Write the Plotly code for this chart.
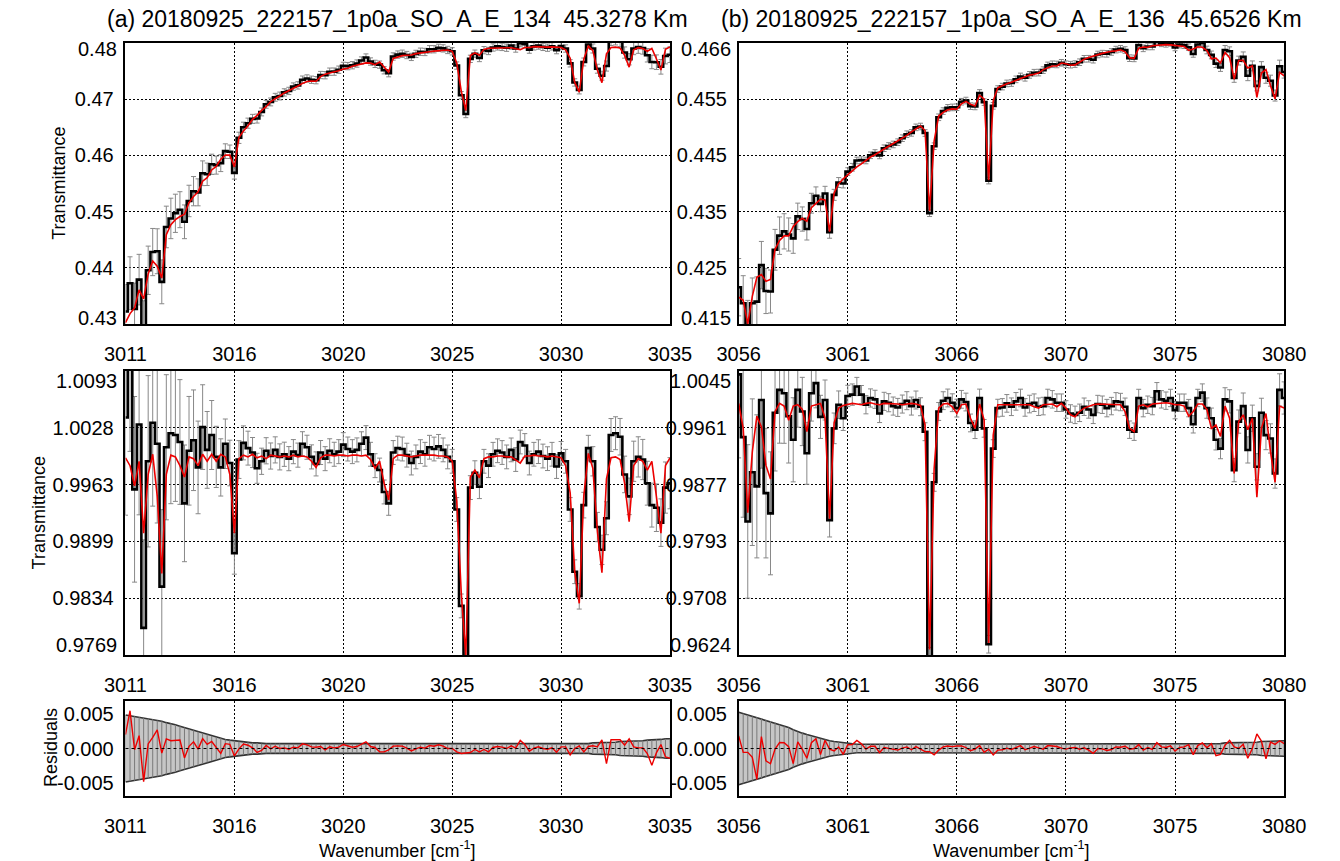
import numpy as np
import plotly.graph_objects as go
from plotly.subplots import make_subplots

# ---------------- panel (a) : 3011-3035 cm-1 ----------------
wn_a = np.round(np.linspace(3011.0, 3035.0, 121), 2)
cont_a = [
    0.4305, 0.4325, 0.4345, 0.4365, 0.4385, 0.4400, 0.4413, 0.4425, 0.4443, 0.4470,
    0.4478, 0.4488, 0.4498, 0.4508, 0.4518, 0.4530, 0.4542, 0.4555, 0.4565, 0.4575,
    0.4585, 0.4594, 0.4603, 0.4612, 0.4622, 0.4635, 0.4645, 0.4655, 0.4665, 0.4674,
    0.4682, 0.4690, 0.4697, 0.4702, 0.4708, 0.4713, 0.4718, 0.4722, 0.4726, 0.4730,
    0.4734, 0.4737, 0.4740, 0.4743, 0.4746, 0.4748, 0.4750, 0.4752, 0.4755, 0.4757,
    0.4760, 0.4762, 0.4764, 0.4766, 0.4768, 0.4770, 0.4771, 0.4773, 0.4774, 0.4776,
    0.4777, 0.4779, 0.4780, 0.4781, 0.4783, 0.4784, 0.4785, 0.4786, 0.4787, 0.4788,
    0.4789, 0.4790, 0.4790, 0.4791, 0.4791, 0.4791, 0.4791, 0.4792, 0.4792, 0.4792,
    0.4793, 0.4793, 0.4793, 0.4793, 0.4794, 0.4794, 0.4794, 0.4794, 0.4794, 0.4794,
    0.4795, 0.4795, 0.4795, 0.4795, 0.4795, 0.4795, 0.4795, 0.4795, 0.4795, 0.4795,
    0.4795, 0.4795, 0.4795, 0.4795, 0.4795, 0.4795, 0.4795, 0.4795, 0.4795, 0.4795,
    0.4795, 0.4795, 0.4795, 0.4795, 0.4795, 0.4795, 0.4795, 0.4796, 0.4796, 0.4796,
    0.4796]
fit_a = [
    0.9994, 0.9985, 0.9962, 0.9990, 0.9908, 0.9975, 0.9998, 0.9950, 0.9862, 0.9975,
    0.9997, 0.9995, 0.9985, 0.9972, 0.9995, 0.9993, 0.9985, 0.9998, 0.9990, 0.9998,
    0.9990, 0.9998, 0.9995, 0.9975, 0.9908, 0.9993, 0.9997, 0.9995, 0.9998, 0.9994,
    0.9996, 0.9993, 0.9997, 0.9996, 0.9995, 0.9996, 0.9995, 0.9997, 0.9995, 0.9996,
    0.9995, 0.9990, 0.9983, 0.9994, 0.9997, 0.9997, 0.9996, 0.9997, 0.9997, 0.9996,
    0.9997, 0.9997, 0.9996, 0.9997, 0.9992, 0.9982, 0.9990, 0.9965, 0.9946, 0.9993,
    0.9997, 0.9997, 0.9996, 0.9995, 0.9996, 0.9997, 0.9997, 0.9997, 0.9997, 0.9996,
    0.9996, 0.9995, 0.9990, 0.9945, 0.9840, 0.9768, 0.9972, 0.9980, 0.9971, 0.9993,
    0.9995, 0.9995, 0.9996, 0.9996, 0.9995, 0.9995, 0.9991, 0.9988, 0.9996, 0.9996,
    0.9997, 0.9996, 0.9996, 0.9995, 0.9996, 0.9995, 0.9994, 0.9985, 0.9954, 0.9864,
    0.9828, 0.9950, 0.9999, 0.9982, 0.9910, 0.9863, 0.9970, 0.9994, 0.9995, 0.9992,
    0.9965, 0.9921, 0.9985, 0.9993, 0.9990, 0.9980, 0.9990, 0.9950, 0.9908, 0.9985,
    0.9994]
obs_a = [
    1.0040, 1.0110, 0.9958, 1.0032, 0.9800, 0.9990, 1.0034, 1.0010, 0.9847, 1.0006,
    1.0022, 1.0020, 1.0012, 0.9942, 1.0002, 1.0014, 0.9983, 1.0029, 1.0003, 1.0020,
    0.9995, 0.9983, 1.0010, 0.9988, 0.9885, 0.9992, 1.0011, 1.0005, 1.0000, 0.9982,
    0.9990, 1.0002, 0.9996, 1.0003, 0.9995, 0.9998, 0.9993, 1.0001, 0.9997, 1.0010,
    1.0006, 0.9995, 0.9987, 1.0000, 0.9993, 1.0002, 0.9998, 1.0001, 1.0009, 1.0004,
    1.0001, 1.0003, 1.0010, 1.0017, 0.9998, 0.9985, 0.9980, 0.9955, 0.9942, 1.0000,
    1.0005, 1.0004, 0.9997, 0.9988, 0.9995, 1.0001, 0.9998, 1.0006, 1.0004, 1.0007,
    1.0003, 0.9995, 0.9990, 0.9935, 0.9825, 0.9755, 0.9960, 0.9977, 0.9961, 0.9990,
    0.9985, 0.9998, 1.0002, 1.0000, 0.9995, 1.0003, 0.9992, 1.0012, 1.0008, 0.9988,
    0.9998, 1.0001, 0.9996, 0.9993, 0.9998, 0.9984, 0.9999, 0.9990, 0.9935, 0.9864,
    0.9836, 0.9940, 1.0005, 0.9990, 0.9915, 0.9889, 0.9925, 1.0020, 1.0022, 1.0018,
    0.9975, 0.9950, 0.9990, 0.9995, 0.9992, 0.9965, 0.9940, 0.9937, 0.9920, 0.9960,
    0.9965]
band_a = [
    0.0048, 0.0047, 0.0046, 0.0045, 0.0044, 0.0043, 0.0042, 0.0040, 0.0039, 0.0037,
    0.0036, 0.0034, 0.0032, 0.0030, 0.0028, 0.0026, 0.0024, 0.0022, 0.0020, 0.0018,
    0.0016, 0.0015, 0.0013, 0.0012, 0.0011, 0.0010, 0.0009, 0.0009, 0.0008, 0.0008,
    0.0007, 0.0007, 0.0007, 0.0007, 0.0007, 0.00065, 0.00065, 0.00065, 0.00065, 0.00065,
    0.00065, 0.00065, 0.00065, 0.00065, 0.00065, 0.00065, 0.00065, 0.00065, 0.00065, 0.00065,
    0.00065, 0.00065, 0.00065, 0.00065, 0.00065, 0.00065, 0.00065, 0.00065, 0.00065, 0.00065,
    0.00065, 0.00065, 0.00065, 0.00065, 0.00065, 0.00065, 0.00065, 0.00065, 0.00065, 0.00065,
    0.00065, 0.00065, 0.00065, 0.00065, 0.00065, 0.00065, 0.00065, 0.00065, 0.00065, 0.00065,
    0.00065, 0.00065, 0.00065, 0.00065, 0.00065, 0.00065, 0.00065, 0.00065, 0.00065, 0.00065,
    0.00065, 0.00065, 0.00065, 0.00065, 0.00065, 0.00065, 0.00065, 0.00065, 0.00065, 0.00065,
    0.0007, 0.0007, 0.0007, 0.0008, 0.0008, 0.0008, 0.0009, 0.0009, 0.0009, 0.0010,
    0.0010, 0.0010, 0.0011, 0.0011, 0.0011, 0.0012, 0.0012, 0.0013, 0.0013, 0.0014,
    0.0014]

# ---------------- panel (b) : 3056-3080 cm-1 ----------------
wn_b = np.round(np.linspace(3056.0, 3080.0, 121), 2)
cont_b = [
    0.4200, 0.4210, 0.4220, 0.4232, 0.4244, 0.4256, 0.4268, 0.4280, 0.4292, 0.4303,
    0.4313, 0.4322, 0.4330, 0.4338, 0.4347, 0.4356, 0.4364, 0.4371, 0.4378, 0.4386,
    0.4394, 0.4402, 0.4409, 0.4416, 0.4423, 0.4430, 0.4437, 0.4443, 0.4449, 0.4454,
    0.4459, 0.4464, 0.4469, 0.4474, 0.4479, 0.4484, 0.4489, 0.4494, 0.4500, 0.4506,
    0.4512, 0.4517, 0.4522, 0.4527, 0.4532, 0.4536, 0.4540, 0.4544, 0.4548, 0.4552,
    0.4556, 0.4560, 0.4564, 0.4567, 0.4571, 0.4575, 0.4578, 0.4581, 0.4585, 0.4588,
    0.4591, 0.4594, 0.4597, 0.4601, 0.4604, 0.4607, 0.4610, 0.4614, 0.4617, 0.4620,
    0.4622, 0.4625, 0.4627, 0.4629, 0.4631, 0.4633, 0.4635, 0.4637, 0.4639, 0.4641,
    0.4643, 0.4645, 0.4647, 0.4648, 0.4650, 0.4651, 0.4652, 0.4653, 0.4654, 0.4655,
    0.4656, 0.4657, 0.4657, 0.4658, 0.4658, 0.4658, 0.4658, 0.4658, 0.4657, 0.4657,
    0.4656, 0.4655, 0.4654, 0.4652, 0.4650, 0.4649, 0.4648, 0.4646, 0.4645, 0.4644,
    0.4642, 0.4638, 0.4634, 0.4630, 0.4627, 0.4624, 0.4620, 0.4617, 0.4614, 0.4610,
    0.4605]
fit_b = [
    0.9997, 0.9960, 0.9835, 0.9925, 0.9978, 0.9962, 0.9905, 0.9885, 0.9985, 0.9997,
    0.9993, 0.9972, 0.9993, 0.9995, 0.9988, 0.9955, 0.9993, 0.9995, 0.9997, 0.9975,
    0.9826, 0.9968, 0.9990, 0.9994, 0.9996, 0.9997, 0.9996, 0.9995, 0.9997, 0.9998,
    0.9996, 0.9995, 0.9997, 0.9997, 0.9996, 0.9996, 0.9995, 0.9996, 0.9997, 0.9996,
    0.9994, 0.9965, 0.9632, 0.9900, 0.9990, 0.9996, 0.9997, 0.9992, 0.9982, 0.9995,
    0.9996, 0.9975, 0.9960, 0.9996, 0.9972, 0.9642, 0.9950, 0.9995, 0.9995, 0.9996,
    0.9995, 0.9996, 0.9996, 0.9995, 0.9995, 0.9992, 0.9990, 0.9995, 0.9996, 0.9996,
    0.9992, 0.9997, 0.9990, 0.9980, 0.9977, 0.9985, 0.9990, 0.9993, 0.9995, 0.9996,
    0.9996, 0.9996, 0.9996, 0.9995, 0.9995, 0.9985, 0.9960, 0.9955, 0.9993, 0.9995,
    0.9992, 0.9996, 0.9997, 0.9998, 0.9998, 0.9997, 0.9995, 0.9995, 0.9993, 0.9978,
    0.9985, 0.9996, 0.9996, 0.9988, 0.9960, 0.9965, 0.9948, 0.9993, 0.9975, 0.9893,
    0.9970, 0.9980, 0.9958, 0.9975, 0.9858, 0.9960, 0.9982, 0.9925, 0.9880, 0.9993,
    0.9990]
obs_b = [
    1.0040, 0.9947, 0.9822, 0.9895, 0.9874, 1.0002, 0.9864, 0.9834, 0.9983, 1.0017,
    1.0012, 0.9978, 0.9943, 1.0017, 0.9985, 0.9923, 1.0012, 1.0027, 0.9977, 1.0002,
    0.9824, 0.9960, 0.9995, 0.9975, 1.0008, 1.0010, 1.0022, 1.0010, 0.9995, 1.0005,
    1.0003, 0.9982, 1.0000, 0.9998, 0.9993, 0.9991, 0.9996, 1.0001, 0.9993, 1.0002,
    0.9992, 0.9955, 0.9622, 0.9880, 0.9985, 1.0001, 1.0005, 0.9998, 0.9990, 1.0003,
    0.9999, 0.9968, 0.9958, 1.0005, 0.9960, 0.9640, 0.9930, 0.9990, 0.9991, 0.9997,
    0.9992, 1.0000, 1.0005, 0.9991, 0.9996, 0.9998, 0.9992, 0.9993, 1.0005, 1.0003,
    0.9998, 0.9998, 0.9988, 0.9982, 0.9980, 0.9983, 0.9992, 0.9988, 0.9980, 0.9996,
    0.9995, 0.9990, 0.9993, 1.0000, 0.9999, 0.9992, 0.9958, 0.9955, 1.0005, 0.9990,
    0.9995, 0.9993, 1.0015, 1.0003, 1.0001, 1.0005, 0.9987, 0.9998, 0.9998, 0.9990,
    0.9966, 1.0005, 1.0013, 0.9990, 0.9975, 0.9943, 0.9930, 1.0003, 1.0000, 0.9898,
    0.9970, 0.9993, 0.9928, 0.9975, 0.9903, 0.9983, 0.9950, 0.9945, 0.9893, 1.0017,
    1.0005]
band_b = [
    0.0052, 0.0050, 0.0048, 0.0046, 0.0045, 0.0043, 0.0041, 0.0039, 0.0037, 0.0034,
    0.0032, 0.0030, 0.0027, 0.0024, 0.0022, 0.0020, 0.0018, 0.0016, 0.0014, 0.0013,
    0.0011, 0.0010, 0.0009, 0.0008, 0.0007, 0.0007, 0.0006, 0.0006, 0.0006, 0.0006,
    0.0006, 0.0006, 0.0006, 0.0006, 0.0006, 0.0006, 0.0006, 0.0006, 0.0006, 0.0006,
    0.0006, 0.0006, 0.0006, 0.0006, 0.0006, 0.0006, 0.0006, 0.0006, 0.0006, 0.0006,
    0.0006, 0.0006, 0.0006, 0.0006, 0.0006, 0.0006, 0.0006, 0.0006, 0.0006, 0.0006,
    0.0006, 0.0006, 0.0006, 0.0006, 0.0006, 0.0006, 0.0006, 0.0006, 0.0006, 0.0006,
    0.0006, 0.0006, 0.0006, 0.0006, 0.0006, 0.0006, 0.0006, 0.0006, 0.0006, 0.0006,
    0.0006, 0.0006, 0.0006, 0.0006, 0.0006, 0.0006, 0.0006, 0.0006, 0.0006, 0.0006,
    0.0006, 0.0006, 0.0006, 0.0006, 0.0006, 0.0006, 0.0006, 0.0006, 0.0006, 0.0006,
    0.0006, 0.0006, 0.0006, 0.0007, 0.0007, 0.0007, 0.0007, 0.0008, 0.0008, 0.0008,
    0.0008, 0.0009, 0.0009, 0.0009, 0.0009, 0.0010, 0.0010, 0.0010, 0.0010, 0.0011,
    0.0011]

# ---------------- ticks / labels ----------------
xtick_a = ['3011', '3016', '3020', '3025', '3030', '3035']
xtick_b = ['3056', '3061', '3066', '3070', '3075', '3080']
ytick_top_a = ['0.43', '0.44', '0.45', '0.46', '0.47', '0.48']
ytick_top_b = ['0.415', '0.425', '0.435', '0.445', '0.455', '0.466']
ytick_mid_a = ['0.9769', '0.9834', '0.9899', '0.9963', '1.0028', '1.0093']
ytick_mid_b = ['0.9624', '0.9708', '0.9793', '0.9877', '0.9961', '1.0045']
ytick_res = ['-0.005', '0.000', '0.005']
res_ticks = [-0.005, 0.0, 0.005]
title_a = '(a) 20180925_222157_1p0a_SO_A_E_134  45.3278 Km'
title_b = '(b) 20180925_222157_1p0a_SO_A_E_136  45.6526 Km'

FONT = 'Liberation Sans, Arial, sans-serif'
RED = '#ec0000'
W, H = 1340, 861
TICK_SIZE = 20

fig = make_subplots(rows=3, cols=2)

panels = [
    dict(col=1, wn=wn_a, cont=cont_a, fit=fit_a, obs=obs_a, band=band_a,
         xr=[3011, 3035], xt=xtick_a, ytop=[0.43, 0.48], yt_top=ytick_top_a,
         ymid=[0.9769, 1.0093], yt_mid=ytick_mid_a),
    dict(col=2, wn=wn_b, cont=cont_b, fit=fit_b, obs=obs_b, band=band_b,
         xr=[3056, 3080], xt=xtick_b, ytop=[0.415, 0.466], yt_top=ytick_top_b,
         ymid=[0.9624, 1.0045], yt_mid=ytick_mid_b),
]

xdom = [[107 / W, 670 / W], [741 / W, 1305 / W]]
ydom = [[1 - 324 / H, 1 - 43 / H], [1 - 655 / H, 1 - 371 / H], [1 - 796 / H, 1 - 701 / H]]
ann = []

for p in panels:
    c = p['col']
    wn = p['wn']
    cont = np.array(p['cont'])
    fit = np.array(p['fit'])
    obs = np.array(p['obs'])
    band = np.array(p['band'])
    top_obs = obs * cont
    top_fit = fit * cont
    mid_err = band / cont
    res = (obs - fit) * cont

    # --- top: raw transmittance ---
    fig.add_trace(go.Scatter(x=wn, y=top_obs, mode='markers',
                             marker=dict(size=2, color='rgba(0,0,0,0)'),
                             error_y=dict(type='data', array=band, color='#888888',
                                          thickness=1, width=2.5),
                             showlegend=False, hoverinfo='skip'), row=1, col=c)
    fig.add_trace(go.Scatter(x=wn, y=top_obs, mode='lines',
                             line=dict(color='black', width=2.6, shape='hvh'),
                             showlegend=False), row=1, col=c)
    fig.add_trace(go.Scatter(x=wn, y=top_fit, mode='lines',
                             line=dict(color=RED, width=1.6),
                             showlegend=False), row=1, col=c)

    # --- middle: normalised transmittance ---
    fig.add_trace(go.Scatter(x=wn, y=obs, mode='markers',
                             marker=dict(size=2, color='rgba(0,0,0,0)'),
                             error_y=dict(type='data', array=mid_err, color='#888888',
                                          thickness=1, width=2.5),
                             showlegend=False, hoverinfo='skip'), row=2, col=c)
    fig.add_trace(go.Scatter(x=wn, y=obs, mode='lines',
                             line=dict(color='black', width=2.6, shape='hvh'),
                             showlegend=False), row=2, col=c)
    fig.add_trace(go.Scatter(x=wn, y=fit, mode='lines',
                             line=dict(color=RED, width=1.6),
                             showlegend=False), row=2, col=c)

    # --- bottom: residuals ---
    fig.add_trace(go.Scatter(x=wn, y=band, mode='lines',
                             line=dict(color='#333333', width=1.6),
                             showlegend=False, hoverinfo='skip'), row=3, col=c)
    fig.add_trace(go.Scatter(x=wn, y=-band, mode='lines',
                             line=dict(color='#333333', width=1.6),
                             fill='tonexty', fillcolor='#c6c6c6',
                             showlegend=False, hoverinfo='skip'), row=3, col=c)
    fig.add_trace(go.Scatter(x=wn, y=np.zeros_like(band), mode='markers',
                             marker=dict(size=2, color='rgba(0,0,0,0)'),
                             error_y=dict(type='data', array=band, color='#7a7a7a',
                                          thickness=1, width=0),
                             showlegend=False, hoverinfo='skip'), row=3, col=c)
    fig.add_hline(y=0, line=dict(color='black', width=1, dash='dot'), row=3, col=c)
    fig.add_trace(go.Scatter(x=wn, y=res, mode='lines',
                             line=dict(color=RED, width=1.4),
                             showlegend=False), row=3, col=c)

    xtv = list(np.linspace(p['xr'][0], p['xr'][1], 6))
    for r in (1, 2, 3):
        fig.update_xaxes(range=p['xr'], tickvals=xtv, ticktext=p['xt'], row=r, col=c)

    # y axes of the two transmittance panels: inner ticks on the axis, end labels nudged inward
    for r, rng, txt, nudge in ((1, p['ytop'], p['yt_top'], 6), (2, p['ymid'], p['yt_mid'], 10)):
        ytv = list(np.linspace(rng[0], rng[1], 6))
        fig.update_yaxes(range=rng, tickvals=ytv[1:-1], ticktext=txt[1:-1], row=r, col=c)
        yname = 'y' + ('' if (r == 1 and c == 1) else str((r - 1) * 2 + c))
        for val, lab, shift in ((ytv[0], txt[0], nudge), (ytv[-1], txt[-1], -nudge)):
            ann.append(dict(text=lab, x=xdom[c - 1][0], y=val, xref='paper', yref=yname,
                            xanchor='right', yanchor='middle', xshift=-6, yshift=shift,
                            showarrow=False,
                            font=dict(family=FONT, size=TICK_SIZE, color='black')))
    fig.update_yaxes(range=[-0.0068, 0.0068], tickvals=res_ticks, ticktext=ytick_res,
                     showgrid=False, row=3, col=c)

common = dict(showline=True, mirror=True, linecolor='black', linewidth=1.5,
              ticks='', zeroline=False, gridcolor='black', gridwidth=1,
              griddash='2px,2px', tickfont=dict(family=FONT, size=TICK_SIZE, color='black'))
fig.update_xaxes(showgrid=True, ticklabelstandoff=11, **common)
fig.update_yaxes(ticklabelstandoff=6, **common)
fig.update_yaxes(showgrid=True, row=1)
fig.update_yaxes(showgrid=True, row=2)
fig.update_yaxes(showgrid=False, row=3)

lay = {}
n = 0
for r in range(3):
    for c in range(2):
        n += 1
        sfx = '' if n == 1 else str(n)
        lay['xaxis' + sfx] = dict(domain=xdom[c])
        lay['yaxis' + sfx] = dict(domain=ydom[r])
fig.update_layout(**lay)

for t, c in ((title_a, 0), (title_b, 1)):
    ann.append(dict(text=t, x=(xdom[c][0] + xdom[c][1]) / 2, y=1 - 19 / H,
                    xref='paper', yref='paper', showarrow=False,
                    xanchor='center', yanchor='middle',
                    font=dict(family=FONT, size=23, color='black')))
    ann.append(dict(text='Wavenumber [cm<sup>-1</sup>]', x=(xdom[c][0] + xdom[c][1]) / 2,
                    y=1 - 849 / H, xref='paper', yref='paper', showarrow=False,
                    xanchor='center', yanchor='middle',
                    font=dict(family=FONT, size=18, color='black')))
for t, xp, yp in (('Transmittance', 38, 183), ('Transmittance', 18, 513), ('Residuals', 30, 748)):
    ann.append(dict(text=t, x=xp / W, y=1 - yp / H, xref='paper', yref='paper',
                    showarrow=False, textangle=-90, xanchor='center', yanchor='middle',
                    font=dict(family=FONT, size=18, color='black')))

fig.update_layout(width=W, height=H, margin=dict(l=0, r=0, t=0, b=0),
                  paper_bgcolor='white', plot_bgcolor='white',
                  showlegend=False, annotations=ann,
                  font=dict(family=FONT, color='black'))

fig.write_html('out.html')
